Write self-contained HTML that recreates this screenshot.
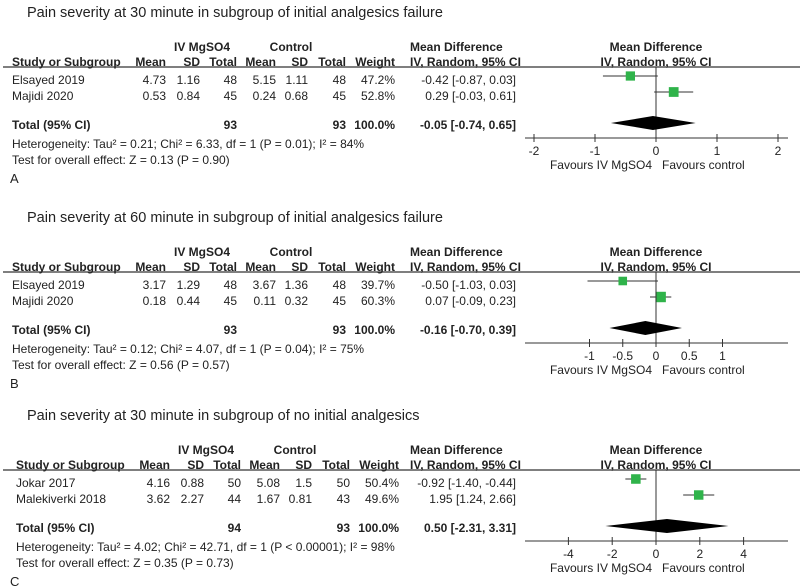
<!DOCTYPE html>
<html><head><meta charset="utf-8"><style>
html,body{margin:0;padding:0;background:#fff}
svg{display:block}
text{font-family:"Liberation Sans",Arial,sans-serif;fill:#222}
.t{font-size:14.5px}
.s{font-size:12px}
.b{font-weight:bold}
</style></head><body>
<svg id="fig" width="800" height="587" viewBox="0 0 800 587" xmlns="http://www.w3.org/2000/svg"></svg>
<script>
// Panel A
const titleA = "Pain severity at 30 minute in subgroup of initial analgesics failure";
const studiesA = ["Elsayed 2019", "Majidi 2020"];
const mgMeanA = ["4.73", "0.53"], mgSDA = ["1.16", "0.84"], mgNA = [48, 45];
const ctMeanA = ["5.15", "0.24"], ctSDA = ["1.11", "0.68"], ctNA = [48, 45];
const weightA = [47.2, 52.8];
const mdA = [-0.42, 0.29], loA = [-0.87, -0.03], hiA = [0.03, 0.61];
const totalA = [-0.05, -0.74, 0.65];
const totNA = [93, 93];
const hetA = "Heterogeneity: Tau² = 0.21; Chi² = 6.33, df = 1 (P = 0.01); I² = 84%";
const testA = "Test for overall effect: Z = 0.13 (P = 0.90)";
const ticksA = [-2, -1, 0, 1, 2];
// Panel B
const titleB = "Pain severity at 60 minute in subgroup of initial analgesics failure";
const studiesB = ["Elsayed 2019", "Majidi 2020"];
const mgMeanB = ["3.17", "0.18"], mgSDB = ["1.29", "0.44"], mgNB = [48, 45];
const ctMeanB = ["3.67", "0.11"], ctSDB = ["1.36", "0.32"], ctNB = [48, 45];
const weightB = [39.7, 60.3];
const mdB = [-0.50, 0.07], loB = [-1.03, -0.09], hiB = [0.03, 0.23];
const totalB = [-0.16, -0.70, 0.39];
const totNB = [93, 93];
const hetB = "Heterogeneity: Tau² = 0.12; Chi² = 4.07, df = 1 (P = 0.04); I² = 75%";
const testB = "Test for overall effect: Z = 0.56 (P = 0.57)";
const ticksB = [-1, -0.5, 0, 0.5, 1];
// Panel C
const titleC = "Pain severity at 30 minute in subgroup of no initial analgesics";
const studiesC = ["Jokar 2017", "Malekiverki 2018"];
const mgMeanC = ["4.16", "3.62"], mgSDC = ["0.88", "2.27"], mgNC = [50, 44];
const ctMeanC = ["5.08", "1.67"], ctSDC = ["1.5", "0.81"], ctNC = [50, 43];
const weightC = [50.4, 49.6];
const mdC = [-0.92, 1.95], loC = [-1.40, 1.24], hiC = [-0.44, 2.66];
const totalC = [0.50, -2.31, 3.31];
const totNC = [94, 93];
const hetC = "Heterogeneity: Tau² = 4.02; Chi² = 42.71, df = 1 (P < 0.00001); I² = 98%";
const testC = "Test for overall effect: Z = 0.35 (P = 0.73)";
const ticksC = [-4, -2, 0, 2, 4];

const svg = document.getElementById('fig');
const NS = "http://www.w3.org/2000/svg";
function mk(tag, attrs, txt) {
  const e = document.createElementNS(NS, tag);
  for (const k in attrs) e.setAttribute(k, attrs[k]);
  if (txt !== undefined) e.textContent = txt;
  svg.appendChild(e);
  return e;
}
function fmt(v) { return (v < 0 ? "-" : "") + Math.abs(v).toFixed(2); }

function panel(p) {
  const oy = p.oy, dx = p.dx;
  const x0 = 656, sc = p.scale;
  const X = v => x0 + v * sc;
  let e;
  e = mk('text', {x: 27, y: oy + 17, class: 't'}, p.title);
  
  
  e = mk('text', {x: 202 + dx, y: oy + 51, class: 's b', 'text-anchor': 'middle'}, 'IV MgSO4');
  
  
  e = mk('text', {x: 291 + dx, y: oy + 51, class: 's b', 'text-anchor': 'middle'}, 'Control');
  
  
  e = mk('text', {x: 410, y: oy + 51, class: 's b'}, 'Mean Difference');
  
  
  e = mk('text', {x: 656, y: oy + 51, class: 's b', 'text-anchor': 'middle'}, 'Mean Difference');
  
  
  const cols = [[166,'Mean'],[200,'SD'],[237,'Total'],[276,'Mean'],[308,'SD'],[346,'Total'],[395,'Weight']];
  e = mk('text', {x: 12 + dx, y: oy + 66, class: 's b'}, 'Study or Subgroup');
  
  
  cols.forEach(c => {
    e = mk('text', {x: c[0] + dx, y: oy + 66, class: 's b', 'text-anchor': 'end'}, c[1]);
    
    
  });
  e = mk('text', {x: 410, y: oy + 66, class: 's b'}, 'IV, Random, 95% CI');
  
  
  e = mk('text', {x: 656, y: oy + 66, class: 's b', 'text-anchor': 'middle'}, 'IV, Random, 95% CI');
  
  
  e = mk('line', {x1: 3, x2: 800, y1: oy + 67, y2: oy + 67, stroke: '#333', 'stroke-width': 1.2});
  
  
  const rowY = [oy + 84, oy + 100];
  p.studies.forEach((s, i) => {
    const y = rowY[i];
    const vals = [p.mgMean[i], p.mgSD[i], p.mgN[i], p.ctMean[i], p.ctSD[i], p.ctN[i], p.weight[i].toFixed(1) + '%'];
    e = mk('text', {x: 12 + dx, y: y, class: 's'}, s);
    
    
    vals.forEach((v, j) => {
      e = mk('text', {x: cols[j][0] + dx, y: y, class: 's', 'text-anchor': 'end'}, v);
      
      
    });
    e = mk('text', {x: 516, y: y, class: 's', 'text-anchor': 'end'}, fmt(p.md[i]) + ' [' + fmt(p.lo[i]) + ', ' + fmt(p.hi[i]) + ']');
    
    
    const cy = y - 8;
    e = mk('line', {x1: X(p.lo[i]), x2: X(p.hi[i]), y1: cy, y2: cy, stroke: '#333', 'stroke-width': 1});
    
    
    const sz = 5 + p.weight[i] * 0.09;
    e = mk('rect', {x: X(p.md[i]) - sz / 2, y: cy - sz / 2, width: sz, height: sz, fill: '#2fb34a'});
    
    
  });
  const ty = oy + 129;
  e = mk('text', {x: 12 + dx, y: ty, class: 's b'}, 'Total (95% CI)');
  
  
  e = mk('text', {x: 237 + dx, y: ty, class: 's b', 'text-anchor': 'end'}, p.totN[0]);
  
  
  e = mk('text', {x: 346 + dx, y: ty, class: 's b', 'text-anchor': 'end'}, p.totN[1]);
  
  
  e = mk('text', {x: 395 + dx, y: ty, class: 's b', 'text-anchor': 'end'}, '100.0%');
  
  
  e = mk('text', {x: 516, y: ty, class: 's b', 'text-anchor': 'end'}, fmt(p.total[0]) + ' [' + fmt(p.total[1]) + ', ' + fmt(p.total[2]) + ']');
  
  
  const ay = oy + 138;
  e = mk('line', {x1: x0, x2: x0, y1: oy + 67, y2: ay, stroke: '#333', 'stroke-width': 1});
  
  
  const dy = ty - 6;
  e = mk('polygon', {points: [X(p.total[1]) + ',' + dy, X(p.total[0]) + ',' + (dy - 7), X(p.total[2]) + ',' + dy, X(p.total[0]) + ',' + (dy + 7)].join(' '), fill: '#000'});
  
  
  e = mk('line', {x1: 525, x2: 788, y1: ay, y2: ay, stroke: '#333', 'stroke-width': 1});
  
  
  p.ticks.forEach(t => {
    e = mk('line', {x1: X(t), x2: X(t), y1: ay - 4, y2: ay + 4, stroke: '#333', 'stroke-width': 1});
    
    
    e = mk('text', {x: X(t), y: ay + 17, class: 's', 'text-anchor': 'middle'}, String(t));
    
    
  });
  e = mk('text', {x: 652, y: ay + 31, class: 's', 'text-anchor': 'end'}, 'Favours IV MgSO4');
  
  
  e = mk('text', {x: 662, y: ay + 31, class: 's'}, 'Favours control');
  
  
  e = mk('text', {x: 12 + dx, y: oy + 148, class: 's'}, p.het);
  
  
  e = mk('text', {x: 12 + dx, y: oy + 164, class: 's'}, p.test);
  
  
  e = mk('text', {x: 10, y: oy + 183, class: 's', style: 'font-size:13px'}, p.label);
  
  
}

panel({oy: 0, dx: 0, scale: 61, title: titleA, studies: studiesA, mgMean: mgMeanA, mgSD: mgSDA, mgN: mgNA, ctMean: ctMeanA, ctSD: ctSDA, ctN: ctNA, weight: weightA, md: mdA, lo: loA, hi: hiA, total: totalA, totN: totNA, het: hetA, test: testA, ticks: ticksA, label: 'A'});
panel({oy: 205, dx: 0, scale: 66.5, title: titleB, studies: studiesB, mgMean: mgMeanB, mgSD: mgSDB, mgN: mgNB, ctMean: ctMeanB, ctSD: ctSDB, ctN: ctNB, weight: weightB, md: mdB, lo: loB, hi: hiB, total: totalB, totN: totNB, het: hetB, test: testB, ticks: ticksB, label: 'B'});
panel({oy: 403, dx: 4, scale: 21.9, title: titleC, studies: studiesC, mgMean: mgMeanC, mgSD: mgSDC, mgN: mgNC, ctMean: ctMeanC, ctSD: ctSDC, ctN: ctNC, weight: weightC, md: mdC, lo: loC, hi: hiC, total: totalC, totN: totNC, het: hetC, test: testC, ticks: ticksC, label: 'C'});
</script>
</body></html>
